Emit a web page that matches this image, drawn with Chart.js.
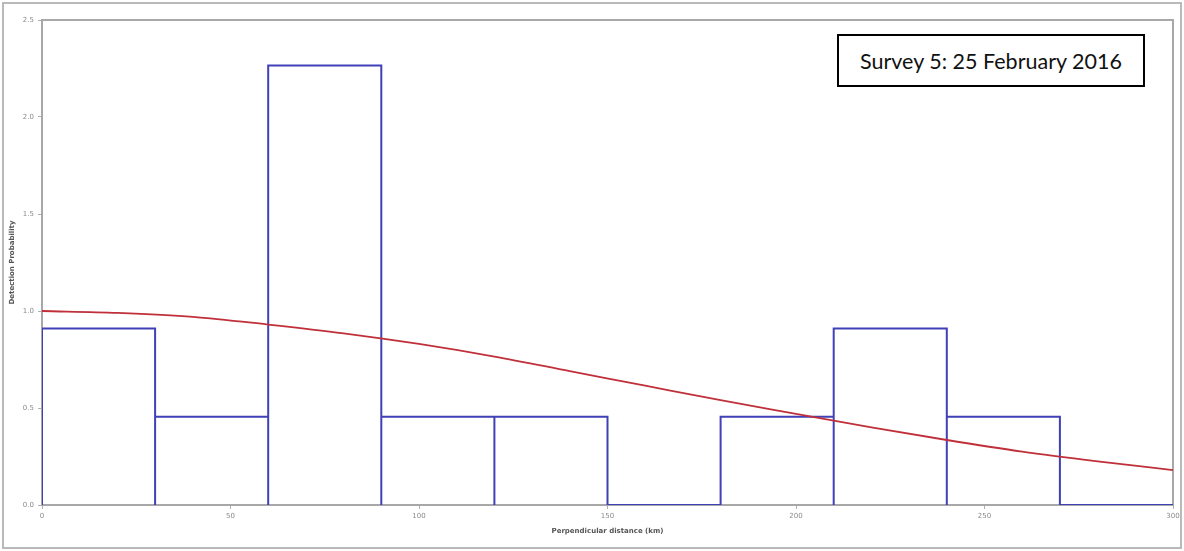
<!DOCTYPE html>
<html>
<head>
<meta charset="utf-8">
<script src="https://cdn.jsdelivr.net/npm/chart.js@4.4.1/dist/chart.umd.min.js"></script>
<style>
  html, body { margin: 0; padding: 0; background: #ffffff; }
  #wrap { position: relative; width: 1184px; height: 551px; overflow: hidden; }
  #c { position: absolute; left: 0; top: 0; }
  #frame { position: absolute; left: 2px; top: 2px; width: 1176px; height: 543px; border: 2px solid #b9b9b9; pointer-events: none; }
  #note { position: absolute; left: 837px; top: 34px; width: 308px; height: 53px; border: 2px solid #000; background: #fff; box-sizing: border-box;
          font-family: Lato, "Open Sans", sans-serif; font-size: 21.5px; color: #111; display: flex; align-items: center; justify-content: center; }
</style>
</head>
<body>
<div id="wrap">
  <canvas id="c" width="1184" height="551"></canvas>
  <div id="frame"></div>
  <div id="note">Survey 5: 25 February 2016</div>
</div>
<script>
// ---- data ----
const binEdges   = [0, 30, 60, 90, 120, 150, 180, 210, 240, 270, 300];
const binHeights = [0.91, 0.455, 2.265, 0.455, 0.455, 0, 0.455, 0.91, 0.455, 0];
const curveX     = [0, 20, 40, 60, 80, 100, 120, 140, 160, 180, 200, 220, 240, 260, 280, 300];
const curveY     = [1.0, 0.99, 0.97, 0.93, 0.885, 0.83, 0.765, 0.69, 0.615, 0.54, 0.47, 0.40, 0.335, 0.275, 0.225, 0.18];
const xTickValues = [0, 50, 100, 150, 200, 250, 300];
const yTickLabels = ['0.0', '0.5', '1.0', '1.5', '2.0', '2.5'];
const xTitle = 'Perpendicular distance (km)';
const yTitle = 'Detection Probability';

// histogram outline built from bins
const histPts = [];
for (let i = 0; i < binHeights.length; i++) {
  const lo = binEdges[i], hi = binEdges[i + 1], h = binHeights[i];
  histPts.push({x: lo, y: 0}, {x: lo, y: h}, {x: hi, y: h}, {x: hi, y: 0});
}
const curvePts = curveX.map((x, i) => ({x: x, y: curveY[i]}));

const framePlugin = {
  id: 'frameBox',
  beforeDatasetsDraw(chart) {
    const a = chart.chartArea, ctx = chart.ctx;
    ctx.save();
    ctx.strokeStyle = '#a8a8a8';
    ctx.lineWidth = 2;
    ctx.beginPath();
    ctx.moveTo(a.left, a.top); ctx.lineTo(a.right, a.top); ctx.lineTo(a.right, a.bottom);
    ctx.stroke();
    ctx.restore();
  }
};

new Chart(document.getElementById('c'), {
  type: 'line',
  data: {
    datasets: [
      { label: 'histogram', data: histPts, borderColor: '#4040b8', borderWidth: 2, pointRadius: 0, tension: 0, fill: false, order: 2 },
      { label: 'detection function', data: curvePts, borderColor: '#c0303a', borderWidth: 1.8, pointRadius: 0, cubicInterpolationMode: 'monotone', fill: false, order: 1 }
    ]
  },
  options: {
    responsive: false,
    animation: false,
    layout: { padding: { left: 4, top: 20, right: 11, bottom: 16 } },
    plugins: { legend: { display: false }, tooltip: { enabled: false } },
    scales: {
      x: {
        type: 'linear', min: 0, max: 300,
        afterFit(s) { s.height = 30; },
        afterBuildTicks(s) { s.ticks = xTickValues.map(v => ({value: v})); },
        ticks: { font: { size: 7, family: 'DejaVu Sans' }, color: '#8a8a8a', padding: 3, maxRotation: 0 },
        grid: { drawOnChartArea: false, drawTicks: true, tickLength: 4, color: '#b0b0b0' },
        border: { color: '#a8a8a8', width: 2 },
        title: { display: true, text: xTitle, font: { size: 7, weight: 'bold', family: 'DejaVu Sans' }, color: '#555', padding: { top: 2, bottom: 0 } }
      },
      y: {
        min: 0, max: 2.5,
        afterFit(s) { s.width = 38; },
        ticks: { stepSize: 0.5, font: { size: 7, family: 'DejaVu Sans' }, color: '#8a8a8a', padding: 4,
                 callback: (v, i) => yTickLabels[i] },
        grid: { drawOnChartArea: false, drawTicks: true, tickLength: 4, color: '#b0b0b0' },
        border: { color: '#a8a8a8', width: 2 },
        title: { display: true, text: yTitle, font: { size: 7, weight: 'bold', family: 'DejaVu Sans' }, color: '#555', padding: { bottom: 2 } }
      }
    }
  },
  plugins: [framePlugin]
});
</script>
</body>
</html>
